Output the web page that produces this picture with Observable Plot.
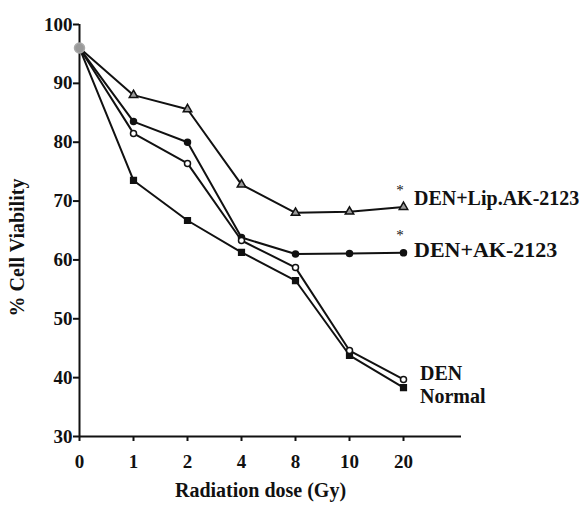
<!DOCTYPE html>
<html>
<head>
<meta charset="utf-8">
<script src="https://cdn.jsdelivr.net/npm/d3@7"></script>
<script src="https://cdn.jsdelivr.net/npm/@observablehq/plot@0.6"></script>
<style>
  html, body { margin: 0; padding: 0; background: #fff; }
  #chart svg text { font-family: "Liberation Serif", "Times New Roman", serif !important; font-weight: bold; }
  #chart svg .star text { font-weight: normal; }
</style>
</head>
<body>
<div id="chart"></div>
<script>
const doses = ["0", "1", "2", "4", "8", "10", "20"];
const yTicks = [30, 40, 50, 60, 70, 80, 90, 100];
const seriesNames = ["DEN+Lip.AK-2123", "DEN+AK-2123", "DEN", "Normal"];
const lipValues = [96, 88, 85.6, 72.8, 68, 68.2, 69];
const akValues = [96, 83.5, 80, 63.8, 61, 61.1, 61.2];
const denValues = [96, 81.5, 76.4, 63.3, 58.7, 44.6, 39.7];
const normalValues = [96, 73.5, 66.7, 61.3, 56.5, 43.8, 38.3];

const allValues = [lipValues, akValues, denValues, normalValues];
const data = [];
seriesNames.forEach((s, i) => doses.forEach((d, j) => data.push({series: s, dose: d, value: allValues[i][j]})));

const symbolOf = {"DEN+Lip.AK-2123": "triangle", "DEN+AK-2123": "circle", "DEN": "circle", "Normal": "square"};
const fillOf = {"DEN+Lip.AK-2123": "#9a9a9a", "DEN+AK-2123": "#111", "DEN": "#fff", "Normal": "#111"};
const rOf = {"DEN+Lip.AK-2123": 4.4, "DEN+AK-2123": 4, "DEN": 4, "Normal": 4.6};

const labelData = seriesNames.map((s, i) => ({series: s, dose: "20", value: allValues[i][6]}));

const chart = Plot.plot({
  width: 588,
  height: 505,
  marginLeft: 79,
  marginRight: 127,
  marginTop: 24,
  marginBottom: 69,
  style: {fontSize: "19px", color: "#111", background: "#fff"},
  x: {type: "point", domain: doses, padding: 0.5, align: 0},
  y: {domain: [30, 100]},
  marks: [
    Plot.axisY({ticks: yTicks, tickSize: 6, tickPadding: 1, strokeWidth: 2, label: null, fontSize: 19}),
    Plot.axisX({tickSize: 5, tickPadding: 13, strokeWidth: 2, label: null, fontSize: 19}),
    Plot.ruleY([30], {stroke: "#111", strokeWidth: 2}),
    Plot.ruleX(["0"], {stroke: "#111", strokeWidth: 2}),
    Plot.line(data, {x: "dose", y: "value", z: "series", stroke: "#111", strokeWidth: 2}),
    Plot.dot(data.filter(d => d.dose !== "0"), {
      x: "dose", y: "value",
      symbol: d => symbolOf[d.series],
      fill: d => fillOf[d.series],
      r: d => rOf[d.series],
      stroke: "#111", strokeWidth: 1.5
    }),
    Plot.dot(data.filter(d => d.dose === "0").slice(0, 1), {x: "dose", y: "value", r: 5, fill: "#999", stroke: "#aaa"}),
    Plot.text([labelData[0]], {x: "dose", y: () => 70.35, text: "series", textAnchor: "start", dx: 10.5, fontSize: 20}),
    Plot.text([labelData[1]], {x: "dose", y: () => 61.77, text: "series", textAnchor: "start", dx: 10.5, fontSize: 22}),
    Plot.text([labelData[2]], {x: "dose", y: () => 40.7, text: "series", textAnchor: "start", dx: 16.5, fontSize: 20}),
    Plot.text([labelData[3]], {x: "dose", y: () => 36.7, text: "series", textAnchor: "start", dx: 16.5, fontSize: 20}),
    Plot.text([labelData[0], labelData[1]], {x: "dose", y: (d, i) => [71.8, 64.15][i], text: () => "*", dx: -3.5, fontSize: 15, className: "star"}),
    Plot.text(["Radiation dose (Gy)"], {frameAnchor: "bottom", x: () => "4", text: d => d, textAnchor: "middle", lineAnchor: "middle", dx: 19, dy: 54, fontSize: 20}),
    Plot.text(["% Cell Viability"], {frameAnchor: "left", text: d => d, rotate: -90, textAnchor: "middle", lineAnchor: "middle", dx: -62, dy: 17, fontSize: 20})
  ]
});
document.getElementById("chart").appendChild(chart);
</script>
</body>
</html>
